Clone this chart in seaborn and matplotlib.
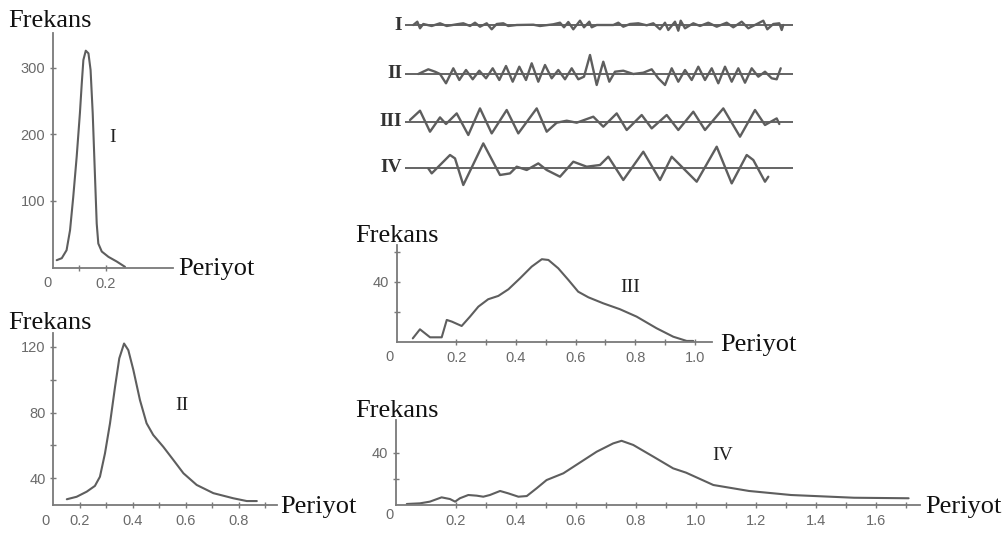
import matplotlib
matplotlib.use("Agg")
import matplotlib.pyplot as plt
import seaborn as sns

# ---------------- frequency distributions (Periyot vs Frekans) ----------------
period_I = [0.015, 0.034, 0.052, 0.065, 0.077, 0.090, 0.102, 0.109, 0.115, 0.124,
            0.134, 0.142, 0.150, 0.159, 0.165, 0.171, 0.184, 0.209, 0.240, 0.271]
freq_I = [11, 14, 26, 56, 106, 167, 232, 277, 312, 326,
          322, 297, 232, 132, 66, 36, 24, 16, 9, 1]

period_II = [0.151, 0.188, 0.226, 0.257, 0.276, 0.295, 0.314, 0.333, 0.349, 0.367,
             0.383, 0.402, 0.427, 0.452, 0.477, 0.515, 0.553, 0.591, 0.641, 0.704,
             0.779, 0.830, 0.868]
freq_II = [27.3, 28.8, 31.9, 35.4, 41.0, 55.2, 73.5, 95.7, 113.0, 122.0,
           118.0, 106.0, 87.6, 73.5, 66.4, 59.2, 51.2, 43.1, 36.0, 31.0,
           27.9, 26.2, 26.2]

period_III = [0.054, 0.078, 0.112, 0.151, 0.168, 0.185, 0.218, 0.246, 0.274, 0.307,
              0.341, 0.375, 0.414, 0.453, 0.487, 0.509, 0.542, 0.576, 0.609, 0.643,
              0.693, 0.749, 0.805, 0.872, 0.928, 0.973, 0.995]
freq_III = [2.6, 8.6, 3.3, 3.3, 14.8, 13.7, 10.8, 17.0, 23.6, 28.5,
            30.7, 35.1, 42.4, 50.1, 55.0, 54.5, 49.0, 41.3, 33.5, 29.8,
            25.8, 21.9, 17.0, 9.3, 3.7, 0.9, 0.9]

period_IV = [0.036, 0.080, 0.113, 0.152, 0.180, 0.197, 0.213, 0.241, 0.269, 0.291,
             0.313, 0.347, 0.374, 0.408, 0.436, 0.469, 0.502, 0.558, 0.669, 0.724,
             0.752, 0.791, 0.858, 0.924, 0.967, 1.058, 1.177, 1.317, 1.527, 1.709]
freq_IV = [0.4, 0.9, 2.2, 5.5, 4.2, 2.2, 4.8, 7.3, 6.8, 6.0,
           7.3, 10.4, 8.6, 6.0, 6.5, 12.5, 18.8, 24.0, 40.6, 47.0,
           49.0, 45.8, 36.8, 27.8, 24.5, 15.0, 10.4, 7.3, 5.2, 4.8]

# ---------------- recorded wave traces (time, amplitude) ----------------
wave_t_I = [8.3, 12.3, 15, 18.3, 26.7, 35, 41.7, 51.7, 58.3, 65, 70, 75, 81.7, 86.7,
            91.7, 98.3, 103.3, 111.7, 128.3, 135, 148.3, 155, 159, 163.3, 168.3, 175,
            179, 184.3, 186.7, 191.7, 208.3, 213.3, 218.3, 225, 233.3, 241.7, 248.3,
            255, 260, 263.3, 270, 273.3, 275.7, 280, 288.3, 295, 303.3, 311.7, 321.7,
            328.3, 336.7, 343.3, 353.3, 358.3, 362.3, 368.3, 374.3, 376.7, 378.3]
wave_a_I = [0, 3.3, -3.3, 1, -1, 1.7, -1, 0.7, 1.7, -1, 2.3, -1.7, 1.7, -4.3,
            1, 1.7, -1, 0, 0.3, -1, 0.7, 2.3, -2.3, 3, -4.3, 4.3,
            -2.3, 3.3, -2.3, 0, 0, 2.3, -1.7, 1, 1.7, -0.3, 1.7,
            -4.3, 2.3, -5, 3.3, -5.7, 4.3, -3.3, 1.7, -1, 2.3, -1.7, 2.3,
            -2.3, 3.3, -3.3, 1.7, 4.3, -4.3, 1, 1.7, -5, 0]

wave_t_II = [13.3, 23.3, 30, 35, 41, 48.3, 54.3, 61, 67.7, 74.3, 81, 87.7, 94.3, 101,
             107.7, 114.3, 121, 126.7, 133.3, 140, 146.7, 153.3, 160, 166.7, 173.3,
             179, 185, 191.7, 198.3, 204.3, 210, 218.3, 228.3, 238.3, 246.7, 253.3,
             260, 266.7, 273.3, 280, 286.7, 293.3, 300, 306.7, 313.3, 320, 326.7,
             333.3, 340, 346.7, 353.3, 360, 366.7, 371.7, 375.7]
wave_a_II = [0, 4.7, 2.3, 0, -9.3, 5.7, -6, 4, -5.3, 3.3, -4.3, 5.7, -6, 8,
             -7.7, 7.3, -6, 10.7, -7.7, 9, -4.3, 4, -5.3, 5.7, -5.3,
             -2.7, 19, -11, 12.3, -7.7, 2.3, 3.3, 0, 1.3, 4.7, -4.3,
             -11, 5.7, -7.7, 4, -6, 7.3, -6, 5.7, -9.3, 7.3, -7.7,
             5.7, -8.7, 5.7, -2.7, 2.3, -4.3, -5.3, 5.7]

wave_t_III = [5, 15, 25, 35, 41, 51.7, 63.3, 75, 86.7, 101.7, 113.3, 131.7, 141.7,
              151.7, 161.7, 171.7, 188.3, 198.3, 211.7, 221.7, 236.7, 246.7, 261.7,
              273.3, 288.3, 300, 318.3, 335, 350, 360, 371.7, 374.3]
wave_a_III = [1.7, 11, -10, 4.3, -2.3, 8.3, -13.3, 13.3, -11.7, 11.7, -11.7, 13.3, -10,
              -1, 1, -1, 5, -5, 8.3, -8.3, 6.7, -6.7, 6.7,
              -8.3, 10, -8.3, 13.3, -15, 11.7, -3.3, 3.3, -2.3]

wave_t_IV = [23.3, 26.7, 45, 50, 58.3, 78.3, 95, 105, 111.7, 121.7, 133.3, 141.7, 155,
             168.3, 181.7, 195, 203.3, 218.3, 238.3, 255, 266.7, 291.7, 311.7, 326.7,
             341.7, 348.3, 360, 363.3]
wave_a_IV = [-0.7, -5.7, 12.7, 9.3, -17.3, 24.3, -7.3, -5.7, 1, -2.3, 4.3, -2.3, -9,
             6, 1, 2.7, 11, -12.3, 16, -12.3, 11, -14, 21, -15.7,
             12.7, 7.7, -14, -9]

wave_names = ["I", "II", "III", "IV"]

# ---------------- style ----------------
sns.set_theme(style="ticks")
plt.rcParams["font.family"] = ["Liberation Sans", "DejaVu Sans"]
plt.rcParams["lines.solid_joinstyle"] = "round"
plt.rcParams["lines.solid_capstyle"] = "round"

AXIS_C = "#7a7a7a"
LINE_C = "#5e5e5e"
TICK_C = "#6a6a6a"
SERIF = ["Liberation Serif", "DejaVu Serif"]

W, H = 1008, 536
fig = plt.figure(figsize=(W / 100, H / 100), dpi=100)
fig.patch.set_facecolor("white")


def px_axes(left, top, right, bottom):
    return fig.add_axes([left / W, 1 - bottom / H, (right - left) / W, (bottom - top) / H])


def px_text(x, y, s, **kw):
    fig.text(x / W, 1 - y / H, s, **kw)


def fmt_labels(values, shown):
    out = []
    for v in values:
        if any(abs(v - s) < 1e-9 for s in shown):
            out.append(f"{v:.1f}" if v < 10 else f"{v:g}")
        else:
            out.append("")
    return out


def style_panel(ax, xlim, ylim, xticks, xshown, yticks, yshown):
    ax.set_xlim(*xlim)
    ax.set_ylim(*ylim)
    for s in ("top", "right"):
        ax.spines[s].set_visible(False)
    for s in ("left", "bottom"):
        ax.spines[s].set_color(AXIS_C)
        ax.spines[s].set_linewidth(1.3)
    ax.set_xticks(xticks)
    ax.set_xticklabels(fmt_labels(xticks, xshown))
    ax.set_yticks(yticks)
    ax.set_yticklabels(fmt_labels(yticks, yshown))
    ax.tick_params(direction="inout", length=5, width=1, color=AXIS_C,
                   labelcolor=TICK_C, labelsize=10.5, pad=3)
    ax.tick_params(axis="x", pad=4)
    ax.set_xlabel("")
    ax.set_ylabel("")
    ax.patch.set_alpha(0)


def draw_curve(ax, x, y):
    sns.lineplot(x=x, y=y, ax=ax, color=LINE_C, linewidth=1.5, estimator=None)


# Panel I
ax1 = px_axes(52.7, 33, 173, 267.5)
draw_curve(ax1, period_I, freq_I)
style_panel(ax1, (0, 0.451), (0, 352.6), [0.1, 0.2], [0.2], [100, 200, 300], [100, 200, 300])

# Panel II
ax2 = px_axes(53.3, 333, 276.7, 505)
draw_curve(ax2, period_II, freq_II)
style_panel(ax2, (0.1, 0.943), (23.8, 128.4),
            [0.2, 0.3, 0.4, 0.5, 0.6, 0.7, 0.8, 0.9], [0.2, 0.4, 0.6, 0.8],
            [40, 60, 80, 100, 120], [40, 80, 120])
ax2.set_yticklabels(["40", "", "80", "", "120"])

# Panel III
ax3 = px_axes(396.7, 245, 711.7, 342.3)
draw_curve(ax3, period_III, freq_III)
style_panel(ax3, (0, 1.057), (0, 64.4),
            [0.2, 0.3, 0.4, 0.5, 0.6, 0.7, 0.8, 0.9, 1.0], [0.2, 0.4, 0.6, 0.8, 1.0],
            [20, 40, 60], [40])
ax3.set_yticklabels(["", "40", ""])

# Panel IV
ax4 = px_axes(396, 420, 920, 504.5)
draw_curve(ax4, period_IV, freq_IV)
iv_ticks = [0.2, 0.3, 0.4, 0.5, 0.6, 0.7, 0.8, 0.9, 1.0, 1.1, 1.2, 1.3, 1.4, 1.5, 1.6, 1.7]
iv_shown = [0.2, 0.4, 0.6, 0.8, 1.0, 1.2, 1.4, 1.6]
style_panel(ax4, (0, 1.747), (0, 65), iv_ticks, iv_shown, [20, 40], [40])
ax4.set_yticklabels(["", "40"])

# corner zeros
for (x, y) in [(47, 283), (45, 521), (390, 357), (389, 515)]:
    px_text(x, y, "0", ha="center", va="center", color=TICK_C, fontsize=10.5)

# axis titles
for (x, y) in [(8, 27), (8, 329), (355, 242), (355, 417)]:
    px_text(x, y, "Frekans", ha="left", va="baseline", fontsize=19, family=SERIF, color="#111111")
for (x, y) in [(178, 275), (280, 513), (720, 351), (925, 513)]:
    px_text(x, y, "Periyot", ha="left", va="baseline", fontsize=19, family=SERIF, color="#111111")

# curve names
for (x, y, s) in [(113, 137, "I"), (182, 406, "II"), (630, 287, "III"), (723, 455, "IV")]:
    px_text(x, y, s, ha="center", va="center", fontsize=14, family=SERIF, color="#222222")

# ---------------- wave traces ----------------
axw = px_axes(360, 0, 810, 200)
axw.set_xlim(-45, 405)
axw.set_ylim(-200, 0)
axw.axis("off")
baselines = [25, 74, 121.7, 167.7]
wave_t = [wave_t_I, wave_t_II, wave_t_III, wave_t_IV]
wave_a = [wave_a_I, wave_a_II, wave_a_III, wave_a_IV]
for name, base, t, a in zip(wave_names, baselines, wave_t, wave_a):
    axw.hlines(-base, 0, 388, color="#4a4a4a", linewidth=1.2)
    sns.lineplot(x=t, y=[v - base for v in a], ax=axw, color=LINE_C, linewidth=1.7, estimator=None)
    px_text(402, base, name, ha="right", va="center", fontsize=14, family=SERIF,
            fontweight="bold", color="#333333")

fig.savefig("out.png", dpi=100, facecolor="white")
